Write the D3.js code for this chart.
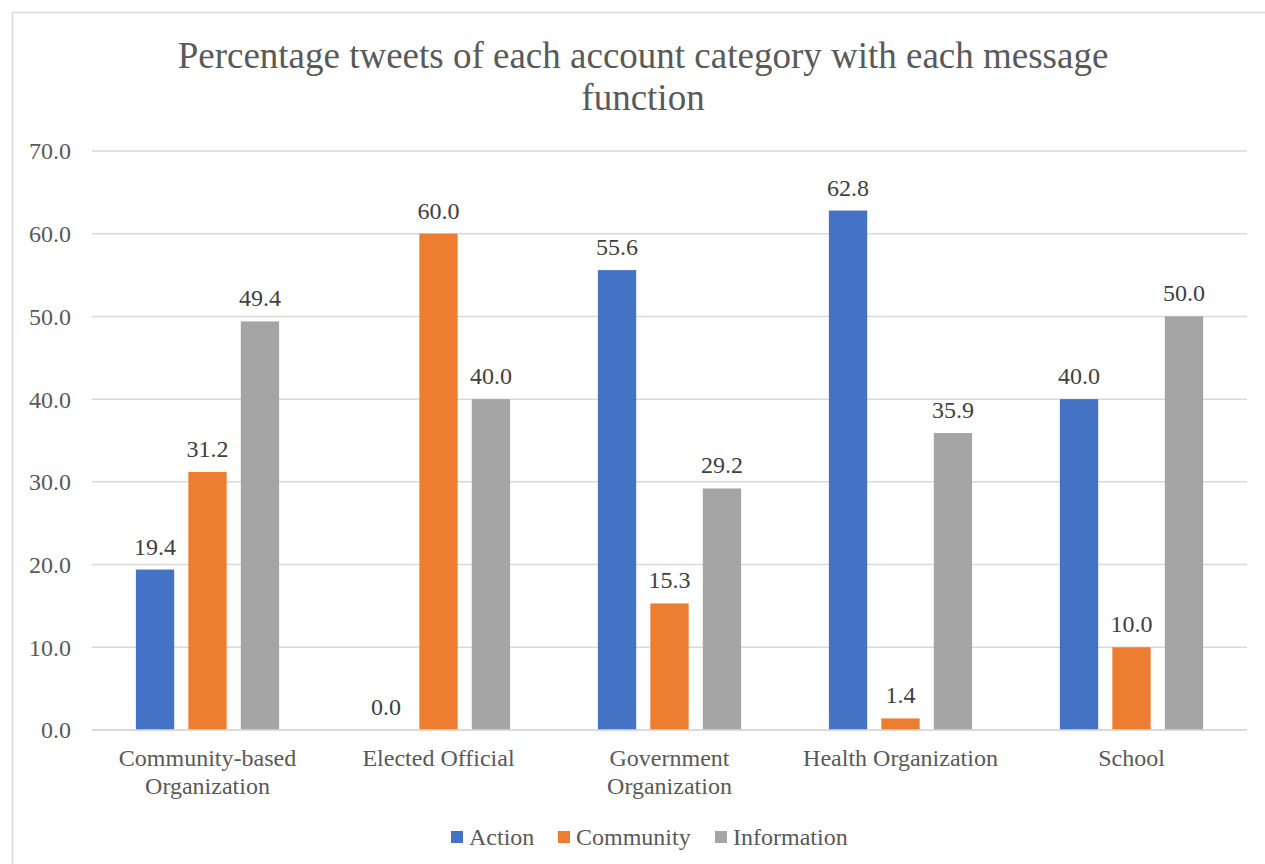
<!DOCTYPE html>
<html><head><meta charset="utf-8">
<script src="https://cdn.jsdelivr.net/npm/d3@7"></script>
<style>body{margin:0;background:#fff}svg{display:block}text{font-family:"Liberation Serif","Times New Roman",serif}</style>
</head><body>
<svg id="c" width="1265" height="864"></svg>
<script>
const categories = [["Community-based","Organization"],["Elected Official"],["Government","Organization"],["Health Organization"],["School"]];
const seriesNames = ["Action","Community","Information"];
const action = [19.4, 0.0, 55.6, 62.8, 40.0];
const community = [31.2, 60.0, 15.3, 1.4, 10.0];
const information = [49.4, 40.0, 29.2, 35.9, 50.0];
const colors = ["#4472C4","#ED7D31","#A5A5A5"];
const yTicks = [0,10,20,30,40,50,60,70];
const titleLines = ["Percentage tweets of each account category with each message","function"];

const svg = d3.select("#c");
const font = "Liberation Serif";
const txt = "#595959";
svg.append("rect").attr("x",12.5).attr("y",12.5).attr("width",1270).attr("height",870)
  .attr("fill","#fff").attr("stroke","#d9d9d9").attr("stroke-width",1.5);

const pL=92, pR=1247, pT=151, pB=730;
const y = d3.scaleLinear().domain([0,70]).range([pB,pT]);
const x0 = d3.scaleBand().domain(d3.range(categories.length)).range([pL,pR]).paddingInner(0.38).paddingOuter(0.19);
const x1 = d3.scaleBand().domain(d3.range(3)).range([0,x0.bandwidth()]).paddingInner(0.27);

svg.append("g").selectAll("line").data(yTicks).join("line")
  .attr("x1",pL).attr("x2",pR).attr("y1",d=>y(d)).attr("y2",d=>y(d))
  .attr("stroke","#d9d9d9").attr("stroke-width",1.5);

const yAxis = d3.axisLeft(y).tickValues(yTicks).tickFormat(d3.format(".1f")).tickSize(0).tickPadding(21);
const ga = svg.append("g").attr("transform",`translate(${pL},0)`).call(yAxis);
ga.select(".domain").remove();
ga.attr("font-family",null).attr("font-size",null);
ga.selectAll("text").style("font-family",font).style("font-size","24px").attr("fill",txt).attr("dy","0.33em");

const data = [action, community, information];
const groups = svg.append("g").selectAll("g").data(categories).join("g")
  .attr("transform",(d,i)=>`translate(${x0(i)},0)`);
groups.each(function(cat,i){
  const g = d3.select(this);
  data.forEach((s,j)=>{
    g.append("rect").attr("x",x1(j)).attr("width",x1.bandwidth())
      .attr("y",y(s[i])).attr("height",y(0)-y(s[i])).attr("fill",colors[j]);
    g.append("text").attr("x",x1(j)+x1.bandwidth()/2).attr("y",y(s[i])-15)
      .attr("text-anchor","middle").style("font-family",font).style("font-size","24px").attr("fill","#404040")
      .text(d3.format(".1f")(s[i]));
  });
  const t = g.append("text").attr("text-anchor","middle").style("font-family",font).style("font-size","24px").attr("fill",txt);
  cat.forEach((line,k)=>t.append("tspan").attr("x",x0.bandwidth()/2).attr("y",766+k*28).text(line));
});

svg.append("line").attr("x1",pL).attr("x2",pR).attr("y1",y(0)).attr("y2",y(0)).attr("stroke","#d9d9d9").attr("stroke-width",1.5);

const tt = svg.append("text").attr("text-anchor","middle").style("font-family",font).style("font-size","37px").attr("fill",txt);
titleLines.forEach((l,k)=>tt.append("tspan").attr("x",643).attr("y",68+k*42).text(l));

const legX = [451,558,715];
const lg = svg.append("g");
seriesNames.forEach((n,j)=>{
  lg.append("rect").attr("x",legX[j]).attr("y",831).attr("width",12).attr("height",12).attr("fill",colors[j]);
  lg.append("text").attr("x",legX[j]+18).attr("y",845).style("font-family",font).style("font-size","24px").attr("fill",txt).text(n);
});
</script>
</body></html>
